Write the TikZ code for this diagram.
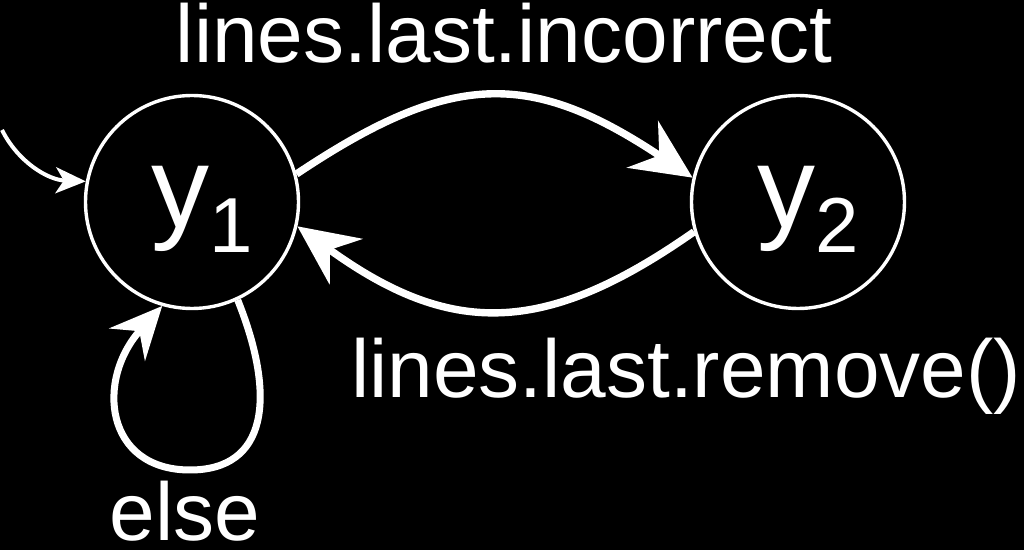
\documentclass[tikz,border=0pt]{standalone}
\usepackage{fontspec}
\setmainfont{Liberation Sans}
\usetikzlibrary{arrows.meta}
\begin{document}
\begin{tikzpicture}[x=0.5pt,y=-0.5pt,
  state/.style={circle,draw=white,line width=1.7pt,minimum size=106.5pt,inner sep=0pt},
  statelabel/.style={text=white,inner sep=0pt,anchor=base west,font=\fontsize{58}{58}\selectfont},
  edgelabel/.style={text=white,inner sep=0pt,anchor=base,font=\fontsize{41}{41}\selectfont},
  bigedge/.style={draw=white,line width=3.7pt,-{Stealth[length=30pt,width=28pt,inset=10pt]}},
  loopedge/.style={draw=white,line width=3.5pt,-{Stealth[length=26pt,width=24pt,inset=9pt]}},
  initedge/.style={draw=white,line width=2pt,-{Stealth[length=15pt,width=13pt,inset=4pt]}}
]
\fill[black] (0,0) rectangle (1024,550);
\useasboundingbox (0,0) rectangle (1024,550);

\node[state] (y1) at (192,202) {};
\node[state] (y2) at (798,202) {};
\node[statelabel] (y1t) at (151,228) {y\raisebox{-12.5pt}{\fontsize{39}{39}\selectfont 1}};
\node[statelabel] (y2t) at (757,228) {y\raisebox{-12.5pt}{\fontsize{39}{39}\selectfont 2}};

\coordinate (start) at (2,130);
\draw[initedge] (start) .. controls (18,162) and (48,180) .. (y1.169);

\draw[bigedge] (y1.15) .. controls (452,70) and (531,70) .. (y2.167);
\draw[bigedge] (y2.196) .. controls (544,337) and (450,337) .. (y1.347);

\draw[loopedge] (y1.295) .. controls (277,398) and (267,470) .. (190,470)
   .. controls (105,470) and (95,380) .. (y1.254);

\node[edgelabel] (lab1) at (504,63) {lines.last.incorrect};
\node[edgelabel] (lab2) at (686,398) {lines.last.remove()};
\node[edgelabel] (lab3) at (185,541) {else};
\end{tikzpicture}
\end{document}
